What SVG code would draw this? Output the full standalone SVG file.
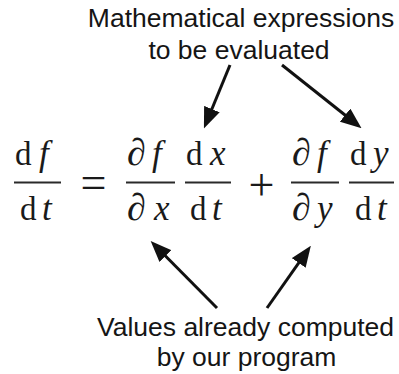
<svg xmlns="http://www.w3.org/2000/svg" width="399" height="374" viewBox="0 0 399 374">
  <style>
    .lbl { font-family: "Liberation Sans", Arial, sans-serif; font-size: 26.5px; fill: #151515; text-anchor: middle; }
    .m { font-family: "Liberation Serif", "DejaVu Serif", serif; font-size: 33px; fill: #1a1a1a; }
    .i { font-style: italic; font-size: 35px; }
    .p { font-style: italic; font-size: 38px; }
    .op { font-family: "Liberation Serif", "DejaVu Serif", serif; font-size: 46px; fill: #1a1a1a; text-anchor: middle; }
    .bar { stroke: #2a2a2a; stroke-width: 1.8; }
    .arr { stroke: #111; stroke-width: 3; fill: none; marker-end: url(#ah); }
  </style>
  <defs>
    <marker id="ah" markerUnits="userSpaceOnUse" markerWidth="21" markerHeight="17" viewBox="0 0 20 16" refX="9" refY="8" orient="auto">
      <path d="M0,0 L20,8 L0,16 z" fill="#111"/>
    </marker>
  </defs>
  <rect width="399" height="374" fill="#ffffff"/>

  <g id="label-top">
    <text class="lbl" x="241" y="27">Mathematical expressions</text>
    <text class="lbl" x="239" y="59">to be evaluated</text>
  </g>

  <g id="frac-df-dt">
    <text class="m" x="15" y="165">d</text><text class="m i" x="39" y="165">f</text>
    <line class="bar" x1="14" y1="182.5" x2="61" y2="182.5"/>
    <text class="m" x="20" y="220">d</text><text class="m i" x="42" y="220">t</text>
  </g>
  <g id="equals">
    <text class="op" x="93.5" y="198">=</text>
  </g>
  <g id="frac-pf-px">
    <text class="m p" x="127" y="165">∂</text><text class="m i" x="152" y="165">f</text>
    <line class="bar" x1="126" y1="182.5" x2="175" y2="182.5"/>
    <text class="m p" x="127" y="220">∂</text><text class="m i" x="154" y="220">x</text>
  </g>
  <g id="frac-dx-dt">
    <text class="m" x="186" y="165">d</text><text class="m i" x="210" y="165">x</text>
    <line class="bar" x1="185" y1="182.5" x2="231" y2="182.5"/>
    <text class="m" x="190" y="220">d</text><text class="m i" x="212" y="220">t</text>
  </g>
  <g id="plus">
    <text class="op" x="261.5" y="200">+</text>
  </g>
  <g id="frac-pf-py">
    <text class="m p" x="292" y="165">∂</text><text class="m i" x="317" y="165">f</text>
    <line class="bar" x1="291" y1="182.5" x2="339" y2="182.5"/>
    <text class="m p" x="292" y="220">∂</text><text class="m i" x="317" y="220">y</text>
  </g>
  <g id="frac-dy-dt">
    <text class="m" x="350" y="165">d</text><text class="m i" x="373" y="165">y</text>
    <line class="bar" x1="349" y1="182.5" x2="394" y2="182.5"/>
    <text class="m" x="355" y="220">d</text><text class="m i" x="377" y="220">t</text>
  </g>

  <g id="label-bottom">
    <text class="lbl" x="245.5" y="336">Values already computed</text>
    <text class="lbl" x="246.5" y="366">by our program</text>
  </g>

  <g id="connectors">
    <line class="arr" x1="230" y1="65" x2="208.3" y2="117.8"/>
    <line class="arr" x1="282" y1="65" x2="352.5" y2="121"/>
    <line class="arr" x1="217" y1="308" x2="158.8" y2="249.3"/>
    <line class="arr" x1="267" y1="308" x2="304.2" y2="255.2"/>
  </g>
</svg>
